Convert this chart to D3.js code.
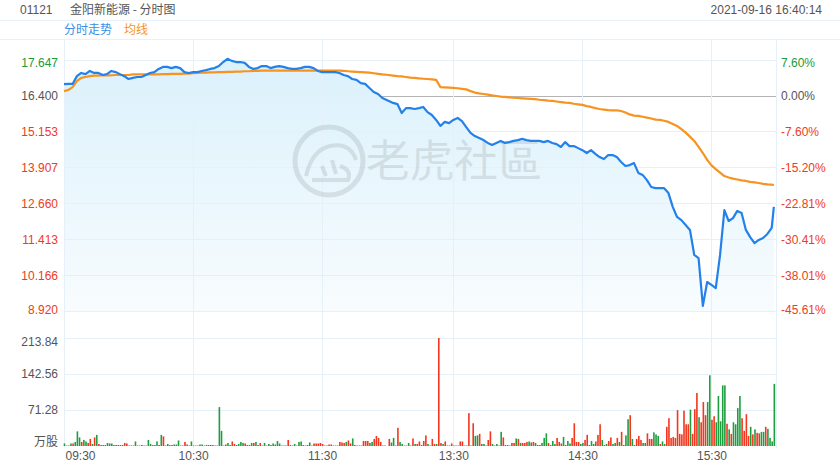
<!DOCTYPE html>
<html><head><meta charset="utf-8">
<script src="https://cdn.jsdelivr.net/npm/d3@7"></script>
<style>
body{margin:0;background:#fff;}
svg{display:block;font-family:"Liberation Sans",Arial,"Noto Sans CJK SC",sans-serif;}
</style>
</head><body><svg id="c" width="840" height="470"></svg>
<script>
// ---------- data ----------
const stockCode = "01121";
const stockTitle = "金阳新能源 - 分时图";
const stamp = "2021-09-16 16:40:14";
const legendNames = ["分时走势", "均线"];
const prevClose = 16.4;
const priceTicks = [17.647, 16.4, 15.153, 13.907, 12.66, 11.413, 10.166, 8.92];
const priceTickLabels = ["17.647", "16.400", "15.153", "13.907", "12.660", "11.413", "10.166", "8.920"];
const pctTickLabels = ["7.60%", "0.00%", "-7.60%", "-15.20%", "-22.81%", "-30.41%", "-38.01%", "-45.61%"];
const volTicks = [213.84, 142.56, 71.28, 0];
const volTickLabels = ["213.84", "142.56", "71.28", "万股"];
const timeTickIdx = [0, 60, 120, 181, 241, 301];
const timeTickLabels = ["09:30", "10:30", "11:30", "13:30", "14:30", "15:30"];

// price / average price, sampled every 2 minutes (last point = 15:59)
const price = [16.81,16.82,16.82,17.09,17.20,17.16,17.27,17.20,17.20,17.13,
 17.16,17.27,17.23,17.16,17.09,16.99,17.03,17.06,17.06,17.13,
 17.20,17.23,17.34,17.41,17.41,17.37,17.41,17.37,17.23,17.20,
 17.23,17.23,17.27,17.30,17.34,17.37,17.44,17.58,17.69,17.62,
 17.58,17.58,17.55,17.41,17.34,17.37,17.44,17.44,17.37,17.41,
 17.44,17.41,17.37,17.34,17.34,17.37,17.41,17.41,17.37,17.27,
 17.23,17.23,17.23,17.23,17.20,17.13,17.09,16.99,16.96,16.85,
 16.82,16.68,16.54,16.47,16.33,16.23,16.16,16.12,15.81,15.98,
 15.98,15.95,15.98,16.02,15.84,15.74,15.57,15.36,15.50,15.46,
 15.57,15.64,15.53,15.32,15.12,15.01,14.94,14.87,14.77,14.70,
 14.77,14.84,14.77,14.80,14.84,14.87,14.91,14.87,14.84,14.84,
 14.84,14.80,14.84,14.77,14.73,14.63,14.80,14.66,14.66,14.59,
 14.52,14.42,14.52,14.39,14.28,14.21,14.35,14.35,14.28,14.11,
 13.97,14.00,14.07,13.73,13.66,13.48,13.24,13.20,13.20,13.20,
 13.03,12.55,12.20,12.09,11.92,11.75,10.88,10.77,9.11,9.94,
 9.84,9.73,10.88,12.44,12.06,12.16,12.41,12.34,11.75,11.50,
 11.29,11.40,11.47,11.61,11.82,12.55];
const avgPrice = [16.57,16.61,16.71,16.92,17.03,17.06,17.09,17.11,17.11,17.12,
 17.12,17.12,17.13,17.13,17.13,17.13,17.15,17.15,17.15,17.15,
 17.15,17.15,17.15,17.16,17.16,17.17,17.17,17.17,17.18,17.18,
 17.19,17.20,17.21,17.21,17.22,17.22,17.23,17.23,17.24,17.24,
 17.25,17.25,17.26,17.26,17.27,17.27,17.28,17.28,17.28,17.28,
 17.28,17.28,17.28,17.28,17.28,17.28,17.28,17.28,17.28,17.28,
 17.28,17.28,17.28,17.28,17.28,17.27,17.26,17.25,17.24,17.23,
 17.22,17.21,17.19,17.17,17.15,17.13,17.11,17.09,17.08,17.06,
 17.04,17.03,17.01,17.00,16.99,16.98,16.96,16.71,16.70,16.69,
 16.68,16.67,16.65,16.63,16.57,16.52,16.49,16.47,16.45,16.42,
 16.40,16.38,16.37,16.35,16.34,16.33,16.32,16.31,16.30,16.29,
 16.27,16.26,16.24,16.23,16.21,16.19,16.17,16.16,16.13,16.11,
 16.09,16.05,16.02,15.98,15.95,15.93,15.91,15.90,15.90,15.88,
 15.83,15.76,15.72,15.71,15.68,15.65,15.62,15.58,15.57,15.54,
 15.50,15.43,15.36,15.25,15.13,14.99,14.84,14.63,14.42,14.18,
 13.99,13.86,13.74,13.62,13.57,13.53,13.50,13.47,13.45,13.42,
 13.40,13.38,13.35,13.33,13.32,13.31];

// per-minute volume (万股), 09:30-11:59 then 13:00-15:59
const volume = [5,1,1,5,5,8,29,17,8,12,
 9,6,14,4,17,22,4,2,2,2,
 6,5,5,2,2,2,2,2,6,5,
 1,1,1,9,1,1,2,1,1,12,
 4,2,2,9,2,22,19,1,4,2,
 2,3,3,11,1,1,8,3,1,9,
 1,1,1,3,3,1,2,2,2,2,
 1,1,77,30,1,3,6,2,9,4,
 2,4,8,6,5,2,2,6,6,8,
 2,6,1,6,1,4,2,5,3,10,
 5,1,1,1,12,2,1,4,1,8,
 9,2,1,2,7,1,5,5,5,6,
 4,1,1,3,3,1,1,1,8,7,
 6,8,11,5,15,2,1,1,1,10,
 10,10,6,8,14,20,16,8,1,1,
 14,7,16,1,36,8,4,1,1,6,
 1,15,4,4,9,2,10,21,4,1,
 14,4,4,213.84,6,4,9,1,1,5,
 1,1,1,9,9,1,1,65,1,45,
 20,21,24,4,4,1,12,29,4,1,
 4,1,28,17,2,2,1,6,6,15,
 14,6,6,6,8,9,7,8,6,2,
 2,6,16,25,6,2,10,4,16,8,
 5,18,2,10,5,16,45,8,8,4,
 6,12,22,2,10,4,9,22,43,12,
 2,4,10,17,4,6,16,8,28,2,
 21,53,61,14,2,14,20,12,6,6,
 25,14,14,27,23,20,4,9,4,38,
 55,16,18,16,71,24,23,70,43,43,
 72,24,73,105,57,47,87,61,87,140,
 52,59,47,99,49,120,120,44,33,24,
 47,43,75,99,55,30,63,20,38,23,
 33,26,25,28,28,38,34,16,9,123];
// g = up minute, r = down minute
const volDir = ("ggrgrgggrg" + "grrgrgrggg" + "gggrrrrrrr" + "rggggrgggg" + "ggggggrrgg" +
 "ggggrrrrrg" + "rggggrgrgr" + "rrgggggrrr" + "ggggrrggrg" + "grgggggggg" +
 "grrrrrrggg" + "gggggrrrrr" + "rrrrrrrrrr" + "rgrrgrrrrr" + "rrggrrrrrr" +
 "rggrrggggg" + "rrgrrrrrgr" + "rrgrrgrrrr" + "rrrrrrrrrr" + "ggrggrrrgr" +
 "grgrggrrrg" + "rgrrrggrgg" + "ggggrgggrr" + "rggggrrrrg" + "grrgggrrrg" +
 "ggrrggrgrg" + "ggrggrrrgg" + "rrrgggrggr" + "rrrrrrrrrr" + "grrrgrrrgg" +
 "rrgggggrgr" + "ggggrrrrgr" + "grrggrgggg").split("");

// ---------- layout ----------
const C = {blue:"#2381ea", orange:"#f7931e", up:"#1f9e40", down:"#f3361d",
  grid:"#e5f0f8", text:"#555", green:"#1a9a3a", red:"#ee3b22"};
const L = 64, R = 776;
const svg = d3.select("#c");

// slot index: 0..150 = 09:30..12:00, 151..331 = 13:00..16:00
const slotOfMinute = m => m < 150 ? m : m + 1;
const x = d3.scaleLinear().domain([0, 331]).range([L, R]);
const y = d3.scaleLinear().domain([8.92, 17.647]).range([311.4, 60.1]);
const yv = d3.scaleLinear().domain([0, 213.84]).range([446, 338]);

const linePts = price.map((p, k) => {
  const m = k < price.length - 1 ? 2 * k : 329;
  return {t: slotOfMinute(m), p: p, a: avgPrice[k]};
});

// header
svg.append("text").attr("x", 20).attr("y", 14).attr("font-size", 12).attr("fill", "#555").text(stockCode);
svg.append("text").attr("x", 70).attr("y", 14).attr("font-size", 12).attr("fill", "#555")
  .attr("font-family", "'Noto Sans CJK SC',sans-serif").text(stockTitle);
svg.append("text").attr("x", 822).attr("y", 14).attr("font-size", 12).attr("fill", "#555")
  .attr("text-anchor", "end").text(stamp);

// legend band
svg.append("line").attr("x1", 0).attr("x2", 840).attr("y1", 20.5).attr("y2", 20.5).attr("stroke", "#e8f1f8");
svg.append("line").attr("x1", 0).attr("x2", 840).attr("y1", 39.5).attr("y2", 39.5).attr("stroke", "#e8f1f8");
svg.append("text").attr("x", 64).attr("y", 34).attr("font-size", 12).attr("fill", "#3a8ee6")
  .attr("font-family", "'Noto Sans CJK SC',sans-serif").text(legendNames[0]);
svg.append("text").attr("x", 124).attr("y", 34).attr("font-size", 12).attr("fill", C.orange)
  .attr("font-family", "'Noto Sans CJK SC',sans-serif").text(legendNames[1]);

// zero line (behind fill)
svg.append("line").attr("x1", L).attr("x2", R).attr("y1", Math.round(y(prevClose)) + 0.5)
  .attr("y2", Math.round(y(prevClose)) + 0.5).attr("stroke", "#b4b4b4");

// fill gradient
const defs = svg.append("defs");
const grad = defs.append("linearGradient").attr("id", "g1").attr("gradientUnits", "userSpaceOnUse")
  .attr("x1", 0).attr("x2", 0).attr("y1", y(17.647)).attr("y2", y(8.92));
grad.append("stop").attr("offset", 0).attr("stop-color", "#dbf1fc");
grad.append("stop").attr("offset", 1).attr("stop-color", "#f8fcfe");
svg.append("path").datum(linePts)
  .attr("d", d3.area().x(d => x(d.t)).y0(y(8.92)).y1(d => y(d.p)))
  .attr("fill", "url(#g1)");

// grid
const gGrid = svg.append("g").attr("stroke", C.grid).attr("shape-rendering", "crispEdges");
priceTicks.forEach(v => { if (v !== prevClose)
  gGrid.append("line").attr("x1", L).attr("x2", R).attr("y1", y(v)).attr("y2", y(v)); });
volTicks.slice(0, 3).forEach(v =>
  gGrid.append("line").attr("x1", L).attr("x2", R).attr("y1", yv(v)).attr("y2", yv(v)));
[L, R].concat(timeTickIdx.slice(1).map(x)).forEach(px =>
  gGrid.append("line").attr("x1", px).attr("x2", px).attr("y1", 40).attr("y2", 448));

// watermark
const wm = svg.append("g").attr("opacity", 0.09);
wm.append("circle").attr("cx", 329).attr("cy", 161).attr("r", 34).attr("fill", "none").attr("stroke", "#000").attr("stroke-width", 5);
wm.append("path").attr("d", "M306,176 Q312,150 330,146 Q350,142 356,160 M312,180 L348,180 Q352,170 340,166 M322,166 L326,176 M332,160 L336,174")
  .attr("fill", "none").attr("stroke", "#000").attr("stroke-width", 4);
wm.append("text").attr("x", 366).attr("y", 177).attr("font-size", 44).attr("fill", "#000")
  .attr("font-family", "'Noto Sans CJK TC','Noto Sans CJK SC',sans-serif").text("老虎社區");

// volume bars
svg.append("g").selectAll("rect").data(volume).join("rect")
  .attr("x", (v, j) => x(slotOfMinute(j)) - 0.3)
  .attr("width", 1.6)
  .attr("y", v => yv(v))
  .attr("height", v => yv(0) - yv(v))
  .attr("fill", (v, j) => volDir[j] === "g" ? C.up : C.down);

// lines
svg.append("path").datum(linePts)
  .attr("d", d3.line().x(d => x(d.t)).y(d => y(d.a)))
  .attr("fill", "none").attr("stroke", C.orange).attr("stroke-width", 2.2).attr("stroke-linejoin", "round");
svg.append("path").datum(linePts)
  .attr("d", d3.line().x(d => x(d.t)).y(d => y(d.p)))
  .attr("fill", "none").attr("stroke", C.blue).attr("stroke-width", 2.2).attr("stroke-linejoin", "round");

// axes labels
const colorFor = v => v > prevClose ? C.green : (v < prevClose ? C.red : C.text);
const nudge = i => i === 0 ? 3 : (i === priceTicks.length - 1 ? -2 : 0);
const yAxisL = d3.axisLeft(y).tickValues(priceTicks).tickSize(0).tickPadding(6)
  .tickFormat((d, i) => priceTickLabels[i]);
const gl = svg.append("g").attr("transform", `translate(${L},0)`).call(yAxisL);
gl.select(".domain").remove();
gl.selectAll("text").attr("font-size", 12).attr("font-family", "'Liberation Sans',Arial,sans-serif")
  .attr("fill", d => colorFor(d)).attr("transform", (d, i) => `translate(0,${nudge(i)})`);

const yAxisR = d3.axisRight(y).tickValues(priceTicks).tickSize(0).tickPadding(5)
  .tickFormat((d, i) => pctTickLabels[i]);
const gr = svg.append("g").attr("transform", `translate(${R},0)`).call(yAxisR);
gr.select(".domain").remove();
gr.selectAll("text").attr("font-size", 12).attr("font-family", "'Liberation Sans',Arial,sans-serif")
  .attr("fill", d => colorFor(d)).attr("transform", (d, i) => `translate(0,${nudge(i)})`);

const vAxis = d3.axisLeft(yv).tickValues(volTicks).tickSize(0).tickPadding(6)
  .tickFormat((d, i) => volTickLabels[i]);
const gv = svg.append("g").attr("transform", `translate(${L},0)`).call(vAxis);
gv.select(".domain").remove();
gv.selectAll("text").attr("font-size", 12).attr("fill", C.text)
  .attr("font-family", "'Liberation Sans','Noto Sans CJK SC',sans-serif")
  .attr("transform", (d, i) => `translate(0,${i === 0 ? 4 : (i === 3 ? -4 : 0)})`);

const xAxis = d3.axisBottom(x).tickValues(timeTickIdx).tickSize(0).tickPadding(5)
  .tickFormat((d, i) => timeTickLabels[i]);
const gx = svg.append("g").attr("transform", "translate(0,446)").call(xAxis);
gx.select(".domain").remove();
gx.selectAll("text").attr("font-size", 12).attr("fill", C.text)
  .attr("font-family", "'Liberation Sans',Arial,sans-serif")
  .attr("text-anchor", (d, i) => i === 0 ? "start" : "middle")
  .attr("transform", (d, i) => i === 0 ? "translate(1,0)" : null);
</script>
</body></html>
